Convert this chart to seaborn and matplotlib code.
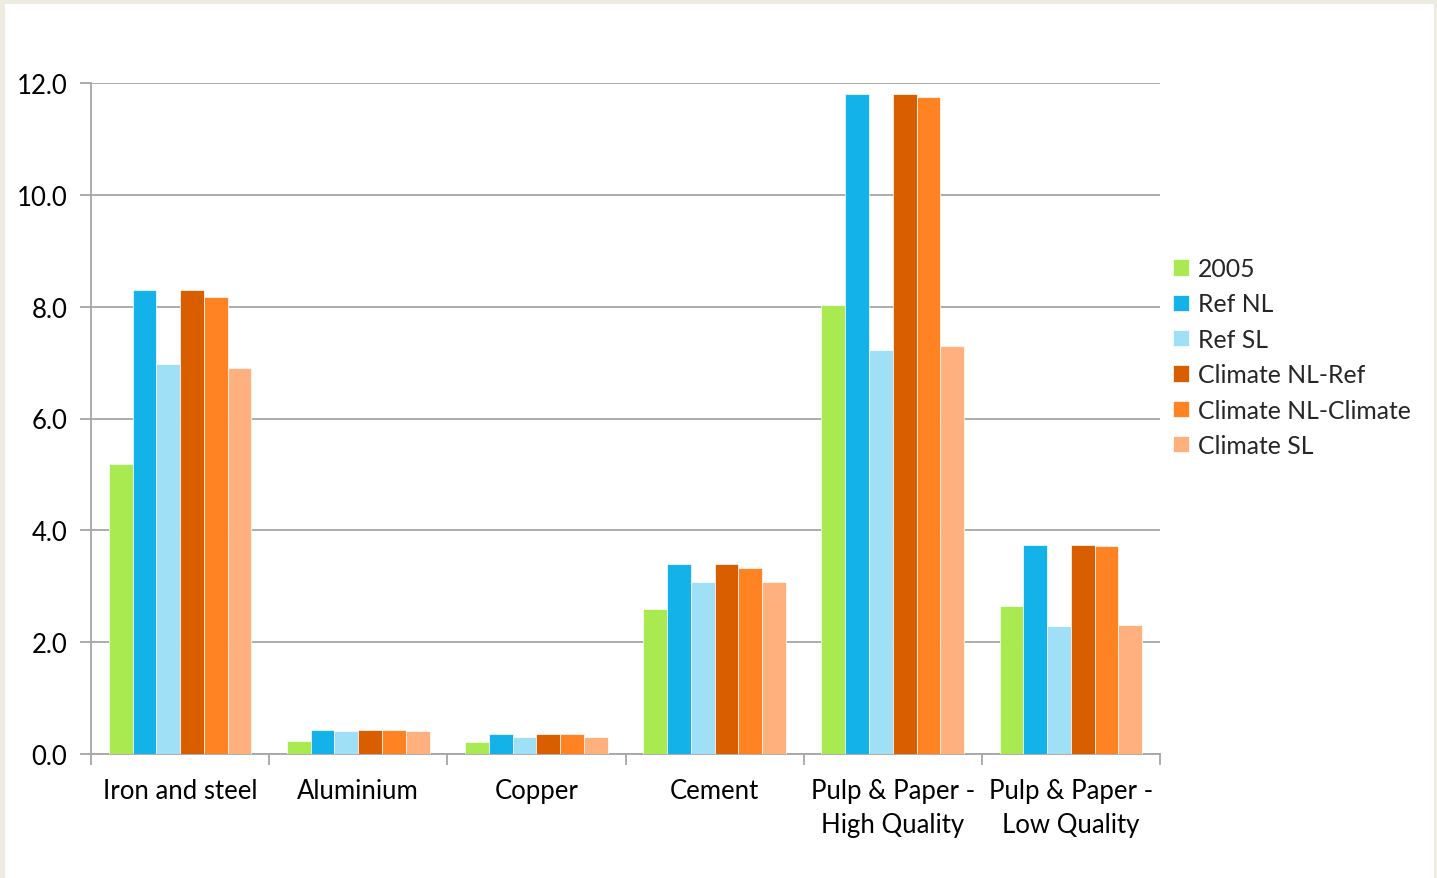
import matplotlib
matplotlib.use("Agg")
import matplotlib.pyplot as plt
from matplotlib.patches import Rectangle
from matplotlib.ticker import FixedLocator, FuncFormatter
import seaborn as sns
import pandas as pd

categories = ["Iron and steel", "Aluminium", "Copper", "Cement",
              "Pulp & Paper -\nHigh Quality", "Pulp & Paper -\nLow Quality"]
series = ["2005", "Ref NL", "Ref SL", "Climate NL-Ref", "Climate NL-Climate", "Climate SL"]

v_2005 = [5.19, 0.23, 0.22, 2.59, 8.03, 2.65]
v_ref_nl = [8.30, 0.43, 0.36, 3.40, 11.80, 3.74]
v_ref_sl = [6.97, 0.41, 0.30, 3.08, 7.22, 2.29]
v_clim_nl_ref = [8.30, 0.43, 0.36, 3.40, 11.80, 3.74]
v_clim_nl_clim = [8.17, 0.43, 0.36, 3.33, 11.75, 3.72]
v_clim_sl = [6.90, 0.41, 0.30, 3.08, 7.30, 2.31]

colors = ["#A9EA50", "#13B2E8", "#9FE0F7", "#D95E00", "#FF8223", "#FFB07C"]

all_vals = [v_2005, v_ref_nl, v_ref_sl, v_clim_nl_ref, v_clim_nl_clim, v_clim_sl]
rows = []
for s, vals in zip(series, all_vals):
    for c, v in zip(categories, vals):
        rows.append({"category": c, "series": s, "value": v})
df = pd.DataFrame(rows)

sns.set_theme(style="white")
plt.rcParams["font.family"] = ["Lato", "DejaVu Sans"]

FS = 18.5
LFS = 17.8
W, H = 1437, 879
fig = plt.figure(figsize=(W / 100, H / 100), dpi=100)
fig.patch.set_facecolor("#EEEBE0")
fig.patches.append(Rectangle((5 / W, 0), (1434 - 5) / W, (H - 5) / H,
                             transform=fig.transFigure, facecolor="white",
                             edgecolor="none", zorder=-10))

ax = fig.add_axes([91 / W, (H - 755) / H, (1160 - 91) / W, (755 - 84) / H])
ax.set_facecolor("none")

sns.barplot(data=df, x="category", y="value", hue="series", hue_order=series,
            order=categories, palette=colors, saturation=1, width=0.8,
            edgecolor="white", linewidth=0.5, ax=ax, zorder=3)

ax.set_ylim(0, 12)
ax.set_xlim(-0.5, len(categories) - 0.5)
ax.set_yticks([0, 2, 4, 6, 8, 10, 12])
ax.yaxis.set_major_formatter(FuncFormatter(lambda v, p: f"{v:.1f}"))
ax.grid(axis="y", color="#A6A6A6", linewidth=1.3, zorder=0)
ax.set_axisbelow(True)
ax.set_xlabel("")
ax.set_ylabel("")

for side in ["top", "right"]:
    ax.spines[side].set_visible(False)
for side in ["left", "bottom"]:
    ax.spines[side].set_color("#A6A6A6")
    ax.spines[side].set_linewidth(1.3)

ax.tick_params(axis="y", which="major", length=8, width=1.3, color="#A6A6A6",
               labelsize=FS, labelcolor="black", pad=9, left=True)
ax.tick_params(axis="x", which="major", length=0, labelsize=FS,
               labelcolor="black", pad=17)
ax.xaxis.set_minor_locator(FixedLocator([i - 0.5 for i in range(len(categories) + 1)]))
ax.tick_params(axis="x", which="minor", length=8, width=1.3, color="#A6A6A6",
               bottom=True)
for lbl in ax.get_xticklabels():
    lbl.set_linespacing(1.45)

handles, labels = ax.get_legend_handles_labels()
ax.legend(handles, labels, loc="center left", bbox_to_anchor=(1163 / W, (H - 358) / H),
          bbox_transform=fig.transFigure, frameon=False, fontsize=LFS,
          handlelength=0.65, handleheight=0.65, handletextpad=0.35,
          labelspacing=0.5, borderaxespad=0)

fig.savefig("out.png", dpi=100, facecolor=fig.get_facecolor())
